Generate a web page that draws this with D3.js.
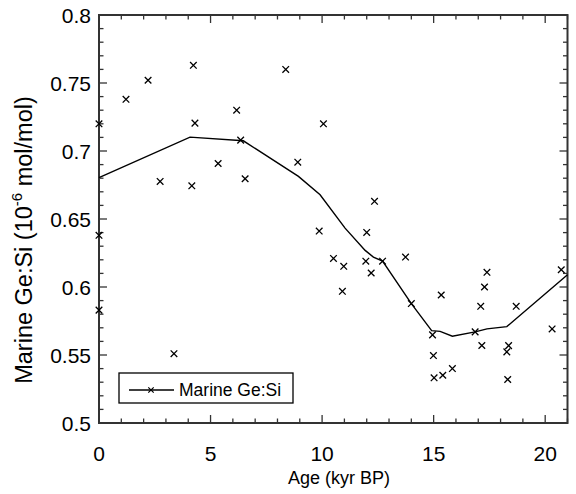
<!DOCTYPE html>
<html><head><meta charset="utf-8">
<script src="https://cdn.jsdelivr.net/npm/d3@7"></script>
<style>body{margin:0;background:#fff}svg{display:block;font-family:"Liberation Sans",Arial,sans-serif}</style>
</head><body><svg id="c" width="576" height="494"></svg>
<script>
// scatter points: age (kyr BP) and Ge:Si
const ageData = [0,0,0,1.21,2.2,4.23,4.3,2.74,4.16,3.36,8.37,6.17,10.06,6.35,5.34,8.91,6.55,12.35,9.87,12.0,10.51,10.97,11.96,12.71,12.2,10.91,13.74,14.0,15.34,14.95,14.99,15.02,15.41,15.84,17.39,17.28,17.11,18.7,16.86,17.16,18.36,18.28,18.32,20.31,20.72];
const geSiData = [0.720,0.638,0.583,0.738,0.752,0.763,0.7205,0.6776,0.6744,0.551,0.760,0.730,0.720,0.708,0.6908,0.6918,0.6796,0.663,0.6411,0.6401,0.621,0.6152,0.619,0.619,0.6103,0.5968,0.622,0.5878,0.5941,0.5648,0.5496,0.5332,0.5351,0.540,0.6108,0.600,0.5858,0.5858,0.567,0.557,0.5569,0.5523,0.532,0.5692,0.6127];
// smoothed curve
const curveAge = [0,4.08,6.47,8.94,9.91,11.03,11.93,12.3,12.71,14.0,14.91,15.29,15.84,16.86,17.39,18.28,21];
const curveGeSi = [0.6805,0.7102,0.7075,0.6813,0.6678,0.6433,0.6269,0.622,0.619,0.5878,0.5679,0.5674,0.5638,0.567,0.5692,0.5709,0.609];
const xTicks = [0,5,10,15,20];
const yTicks = [0.5,0.55,0.6,0.65,0.7,0.75,0.8];
const yTickLabels = ["0.5","0.55","0.6","0.65","0.7","0.75","0.8"];
const seriesName = "Marine Ge:Si";

const svg = d3.select("#c");
const L=99, R=567.5, T=15, B=423;
const x = d3.scaleLinear().domain([0,21]).range([L,R]);
const y = d3.scaleLinear().domain([0.5,0.8]).range([B,T]);
const frameCol = "#333";

const g = svg.append("g");
const xMinor = d3.range(0,22,1), yMinor = d3.range(50,81,1).map(v=>v/100);
function isMajX(v){return v%5===0;}
function isMajY(v){return Math.round(v*100)%5===0;}
xMinor.forEach(v=>{
  const len = isMajX(v)?8:4.5;
  g.append("line").attr("x1",x(v)).attr("x2",x(v)).attr("y1",B).attr("y2",B-len).attr("stroke",frameCol).attr("stroke-width",1.3);
  g.append("line").attr("x1",x(v)).attr("x2",x(v)).attr("y1",T).attr("y2",T+len).attr("stroke",frameCol).attr("stroke-width",1.3);
});
yMinor.forEach(v=>{
  const len = isMajY(v)?8:4.5;
  g.append("line").attr("x1",L).attr("x2",L+len).attr("y1",y(v)).attr("y2",y(v)).attr("stroke",frameCol).attr("stroke-width",1.3);
  g.append("line").attr("x1",R).attr("x2",R-len).attr("y1",y(v)).attr("y2",y(v)).attr("stroke",frameCol).attr("stroke-width",1.3);
});
svg.append("rect").attr("x",L).attr("y",T).attr("width",R-L).attr("height",B-T).attr("fill","none").attr("stroke",frameCol).attr("stroke-width",2);

svg.selectAll(".xl").data(xTicks).join("text").attr("x",d=>x(d)).attr("y",B+38).attr("text-anchor","middle").attr("font-size",21).attr("fill","#000").text(d=>d);
svg.selectAll(".yl").data(yTicks).join("text").attr("x",L-8).attr("y",d=>y(d)+7.5).attr("text-anchor","end").attr("font-size",21).attr("fill","#000").text((d,i)=>yTickLabels[i]);

svg.append("text").attr("x",339).attr("y",484).attr("text-anchor","middle").attr("font-size",18).text("Age (kyr BP)");
const yt = svg.append("text").attr("transform","translate(32,240) rotate(-90)").attr("text-anchor","middle").attr("font-size",23.5);
yt.append("tspan").text("Marine Ge:Si (10");
yt.append("tspan").attr("font-size",15).attr("dy",-10).text("-6");
yt.append("tspan").attr("dy",10).text(" mol/mol)");

const line = d3.line().x(d=>x(d[0])).y(d=>y(d[1]));
svg.append("path").datum(curveAge.map((a,i)=>[a,curveGeSi[i]])).attr("d",line).attr("fill","none").attr("stroke","#000").attr("stroke-width",1.4);

const s=3.3;
const pts = svg.append("g").attr("stroke","#000").attr("stroke-width",1.3);
ageData.forEach((a,i)=>{
  const cx=x(a), cy=y(geSiData[i]);
  pts.append("path").attr("d",`M${cx-s},${cy-s}L${cx+s},${cy+s}M${cx-s},${cy+s}L${cx+s},${cy-s}`);
});

const lg = svg.append("g");
lg.append("rect").attr("x",119).attr("y",373).attr("width",174).attr("height",30).attr("fill","#fff").attr("stroke","#000").attr("stroke-width",1.3);
lg.append("line").attr("x1",129).attr("x2",174).attr("y1",390).attr("y2",390).attr("stroke","#000").attr("stroke-width",1.3);
lg.append("path").attr("d",`M${151-2.7},${390-2.7}L${151+2.7},${390+2.7}M${151-2.7},${390+2.7}L${151+2.7},${390-2.7}`).attr("stroke","#000").attr("stroke-width",1.2);
lg.append("text").attr("x",179).attr("y",396).attr("font-size",17.5).text(seriesName);
</script></body></html>
